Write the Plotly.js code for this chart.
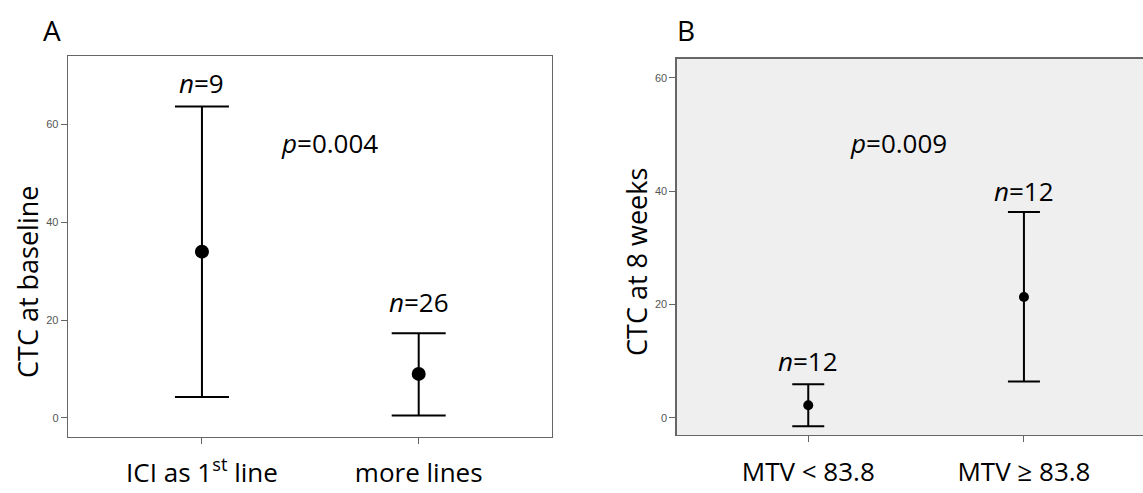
<!DOCTYPE html>
<html>
<head>
<meta charset="utf-8">
<script src="https://cdn.plot.ly/plotly-3.0.1.min.js"></script>
<style>html,body{margin:0;padding:0;background:#fff}#chart{width:1143px;height:493px}</style>
</head>
<body>
<div id="chart"></div>
<script>
// Panel A data
var groupsA = ['ICI as 1st line', 'more lines'];
var tickTextA = ['ICI as 1<sup>st</sup> line', 'more lines'];
var meanA = [34.0, 9.0];
var upperA = [63.7, 17.3];
var lowerA = [4.3, 0.5];
var nA = [9, 26];
var pA = '0.004';

// Panel B data
var groupsB = ['MTV < 83.8', 'MTV \u2265 83.8'];
var meanB = [2.2, 21.3];
var upperB = [5.9, 36.3];
var lowerB = [-1.5, 6.4];
var nB = [12, 12];
var pB = '0.009';

var FONT = '"Open Sans", "Noto Sans", sans-serif';
var TXT = 26;

function diff(a, b) { return a.map(function (v, i) { return v - b[i]; }); }

var traceA = {
  type: 'scatter', mode: 'markers', x: groupsA, y: meanA, xaxis: 'x', yaxis: 'y',
  marker: {color: '#000', size: 14},
  error_y: {type: 'data', symmetric: false, array: diff(upperA, meanA), arrayminus: diff(meanA, lowerA),
            color: '#000', thickness: 2, width: 27},
  hoverinfo: 'none', showlegend: false
};
var traceB = {
  type: 'scatter', mode: 'markers', x: groupsB, y: meanB, xaxis: 'x2', yaxis: 'y2',
  marker: {color: '#000', size: 10},
  error_y: {type: 'data', symmetric: false, array: diff(upperB, meanB), arrayminus: diff(meanB, lowerB),
            color: '#000', thickness: 2, width: 16},
  hoverinfo: 'none', showlegend: false
};

var axLine = '#666';
var tickFont = {family: 'Liberation Sans, Arial, sans-serif', size: 11, color: '#555'};
var catFont = {family: FONT, size: TXT, color: '#000'};

var annos = [];
function txt(o) {
  o.showarrow = false;
  if (!o.xanchor) o.xanchor = 'center';
  if (!o.yanchor) o.yanchor = 'middle';
  annos.push(o);
}
var nShiftA = [23, 31];
groupsA.forEach(function (g, i) {
  txt({xref: 'x', yref: 'y', x: g, y: upperA[i], yshift: nShiftA[i], text: '<i>n</i>=' + nA[i],
       font: {family: FONT, size: TXT, color: '#000'}});
});
var nShiftB = [23, 21];
groupsB.forEach(function (g, i) {
  txt({xref: 'x2', yref: 'y2', x: g, y: upperB[i], yshift: nShiftB[i], text: '<i>n</i>=' + nB[i],
       font: {family: FONT, size: TXT, color: '#000'}});
});
txt({xref: 'x', yref: 'y', x: 0.59, y: 56.2, text: '<i>p</i>=' + pA, font: {family: FONT, size: TXT, color: '#000'}});
txt({xref: 'x2', yref: 'y2', x: 0.42, y: 48.5, text: '<i>p</i>=' + pB, font: {family: FONT, size: TXT, color: '#000'}});
// panel letters
txt({xref: 'paper', yref: 'paper', x: 52 / 1143, y: 1 - 30 / 493, text: 'A', font: {family: FONT, size: 28, color: '#000'}});
txt({xref: 'paper', yref: 'paper', x: 686 / 1143, y: 1 - 30 / 493, text: 'B', font: {family: FONT, size: 28, color: '#000'}});
// y-axis titles
txt({xref: 'paper', yref: 'paper', x: 27 / 1143, y: 1 - 282 / 493, text: 'CTC at baseline', textangle: -90,
     font: {family: FONT, size: 27, color: '#000'}});
txt({xref: 'paper', yref: 'paper', x: 636 / 1143, y: 1 - 262 / 493, text: 'CTC at 8 weeks', textangle: -90,
     font: {family: FONT, size: 27, color: '#000'}});

var layout = {
  width: 1143, height: 493,
  margin: {l: 0, r: 0, t: 0, b: 0},
  paper_bgcolor: '#fff', plot_bgcolor: 'rgba(0,0,0,0)',
  showlegend: false,
  xaxis: {domain: [68 / 1143, 552 / 1143], anchor: 'y', type: 'category', range: [-0.618, 1.615],
          tickvals: groupsA, ticktext: tickTextA, tickfont: catFont, ticks: 'outside', ticklen: 6,
          tickcolor: axLine, showline: true, mirror: true, linecolor: axLine, linewidth: 1.3,
          showgrid: false, zeroline: false, ticklabelstandoff: 6, fixedrange: true},
  yaxis: {domain: [(493 - 437) / 493, (493 - 56) / 493], anchor: 'x', range: [-3.9, 74.0],
          tickvals: [0, 20, 40, 60], tickfont: tickFont, ticks: 'outside', ticklen: 6, tickcolor: axLine,
          showline: true, mirror: true, linecolor: axLine, linewidth: 1.3, showgrid: false, zeroline: false,
          fixedrange: true},
  xaxis2: {domain: [676.7 / 1143, 1], anchor: 'y2', type: 'category', range: [-0.61, 1.552],
           tickfont: catFont, ticks: 'outside', ticklen: 6, tickcolor: axLine,
           showline: true, mirror: true, linecolor: axLine, linewidth: 1.3, showgrid: false, zeroline: false,
           ticklabelstandoff: 7, fixedrange: true},
  yaxis2: {domain: [(493 - 435) / 493, (493 - 58.5) / 493], anchor: 'x2', range: [-3.05, 63.4],
           tickvals: [0, 20, 40, 60], tickfont: tickFont, ticks: 'outside', ticklen: 6, tickcolor: axLine,
           showline: true, mirror: false, linecolor: axLine, linewidth: 1.3, showgrid: false, zeroline: false,
           fixedrange: true},
  shapes: [{type: 'rect', xref: 'x2 domain', yref: 'y2 domain', x0: 0, x1: 1, y0: 0, y1: 1,
            fillcolor: '#efefef', line: {width: 0}, layer: 'below'}],
  annotations: annos
};

Plotly.newPlot('chart', [traceA, traceB], layout, {displayModeBar: false, staticPlot: true});
</script>
</body>
</html>
